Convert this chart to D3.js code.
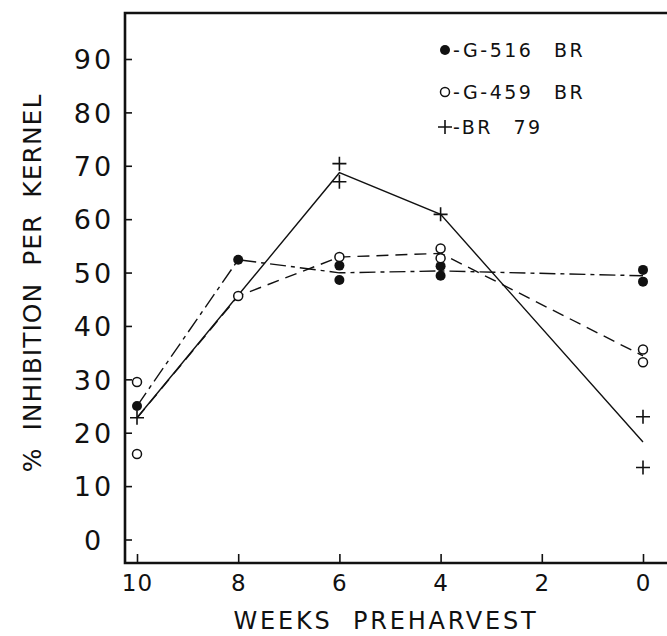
<!DOCTYPE html>
<html>
<head>
<meta charset="utf-8">
<script src="https://cdn.jsdelivr.net/npm/d3@7"></script>
<style>
    body { margin: 0; background: #fff; }
    svg { display: block; font-family: "DejaVu Sans", sans-serif; }
</style>
</head>
<body>
<div id="chart"></div>
<script>
const weeks = [10, 8, 6, 4, 0];
const xTicks = [10, 8, 6, 4, 2, 0];
const yTicks = [0, 10, 20, 30, 40, 50, 60, 70, 80, 90];

// replicate values per week (null = no point at that week)
const g516 = [[25.0], [52.4], [51.3, 48.6], [51.2, 49.4], [50.5, 48.3]];
const g459 = [[29.5, 16.0], [45.6], [52.9], [54.5, 52.7], [35.6, 33.2]];
const br79 = [[22.8], null, [70.4, 67.0], [60.9], [23.0, 13.5]];

const seriesNames = ["G-516 BR", "G-459 BR", "BR 79"];
const seriesMarkers = ["filled", "open", "plus"];
const seriesDash = ["16,5,4,5", "12,7", null];

const width = 667, height = 636;
const frame = { left: 125, top: 13, bottom: 563, right: 680 };

const svg = d3.select("#chart").append("svg")
    .attr("width", width)
    .attr("height", height);

const x = d3.scaleLinear().domain([10, 0]).range([137, 643]);
const y = d3.scaleLinear().domain([0, 90]).range([539.5, 59]);

// frame: top line, left axis, bottom axis
svg.append("path")
    .attr("d", `M${frame.right},${frame.top}H${frame.left}V${frame.bottom}H${frame.right}`)
    .attr("fill", "none")
    .attr("stroke", "#111")
    .attr("stroke-width", 2.6);

// y axis ticks (pointing inward)
const yAxis = svg.append("g")
    .attr("transform", `translate(${frame.left},0)`)
    .call(d3.axisLeft(y).tickValues(yTicks).tickSize(-7).tickPadding(0));
yAxis.select(".domain").remove();
yAxis.selectAll("line").attr("stroke", "#111").attr("stroke-width", 1.6);
yAxis.selectAll("text")
    .attr("x", -31)
    .attr("dy", "0.36em")
    .attr("text-anchor", "middle")
    .style("font-family", "DejaVu Sans")
    .style("font-size", "27px")
    .style("letter-spacing", "3px")
    .attr("fill", "#111");

// x axis ticks (pointing up)
const xAxis = svg.append("g")
    .attr("transform", `translate(0,${frame.bottom})`)
    .call(d3.axisBottom(x).tickValues(xTicks).tickSize(-9).tickPadding(12));
xAxis.select(".domain").remove();
xAxis.selectAll("line").attr("stroke", "#111").attr("stroke-width", 1.6);
xAxis.selectAll("text")
    .style("font-family", "DejaVu Sans")
    .style("font-size", "23px")
    .style("letter-spacing", "1px")
    .attr("fill", "#111");

// axis titles
svg.append("text")
    .attr("x", 386)
    .attr("y", 629)
    .attr("text-anchor", "middle")
    .style("font-size", "24px")
    .style("letter-spacing", "2.8px")
    .style("word-spacing", "10px")
    .attr("fill", "#111")
    .text("WEEKS PREHARVEST");

svg.append("text")
    .attr("transform", "translate(41,283) rotate(-90)")
    .attr("text-anchor", "middle")
    .style("font-size", "25px")
    .style("letter-spacing", "1px")
    .style("word-spacing", "8px")
    .attr("fill", "#111")
    .text("% INHIBITION PER KERNEL");

function drawMarker(g, type, cx, cy) {
    if (type === "filled") {
        g.append("circle").attr("cx", cx).attr("cy", cy).attr("r", 5)
            .attr("fill", "#111");
    } else if (type === "open") {
        g.append("circle").attr("cx", cx).attr("cy", cy).attr("r", 4.5)
            .attr("fill", "#fff").attr("stroke", "#111").attr("stroke-width", 1.5);
    } else {
        g.append("path")
            .attr("d", `M${cx - 7},${cy}H${cx + 7}M${cx},${cy - 7}V${cy + 7}`)
            .attr("stroke", "#111").attr("stroke-width", 1.6);
    }
}

const allSeries = [g516, g459, br79];

const line = d3.line()
    .x(d => x(d.week))
    .y(d => y(d.value));

allSeries.forEach((series, i) => {
    const means = [];
    series.forEach((reps, j) => {
        if (reps) means.push({ week: weeks[j], value: d3.mean(reps) });
    });
    svg.append("path")
        .datum(means)
        .attr("d", line)
        .attr("fill", "none")
        .attr("stroke", "#111")
        .attr("stroke-width", 1.4)
        .attr("stroke-dasharray", seriesDash[i]);
});

// markers drawn after lines so open circles sit on top
allSeries.forEach((series, i) => {
    const g = svg.append("g");
    series.forEach((reps, j) => {
        if (!reps) return;
        reps.forEach(v => drawMarker(g, seriesMarkers[i], x(weeks[j]), y(v)));
    });
});

// legend
const legendRows = [50, 92, 127];
seriesNames.forEach((name, i) => {
    const g = svg.append("g").attr("class", "legend");
    drawMarker(g, seriesMarkers[i], 445, legendRows[i]);
    g.append("text")
        .attr("x", 453)
        .attr("y", legendRows[i] + 7)
        .style("font-size", "19px")
        .style("letter-spacing", "2.5px")
        .style("word-spacing", "12px")
        .attr("fill", "#111")
        .text("-" + name);
});
</script>
</body>
</html>
